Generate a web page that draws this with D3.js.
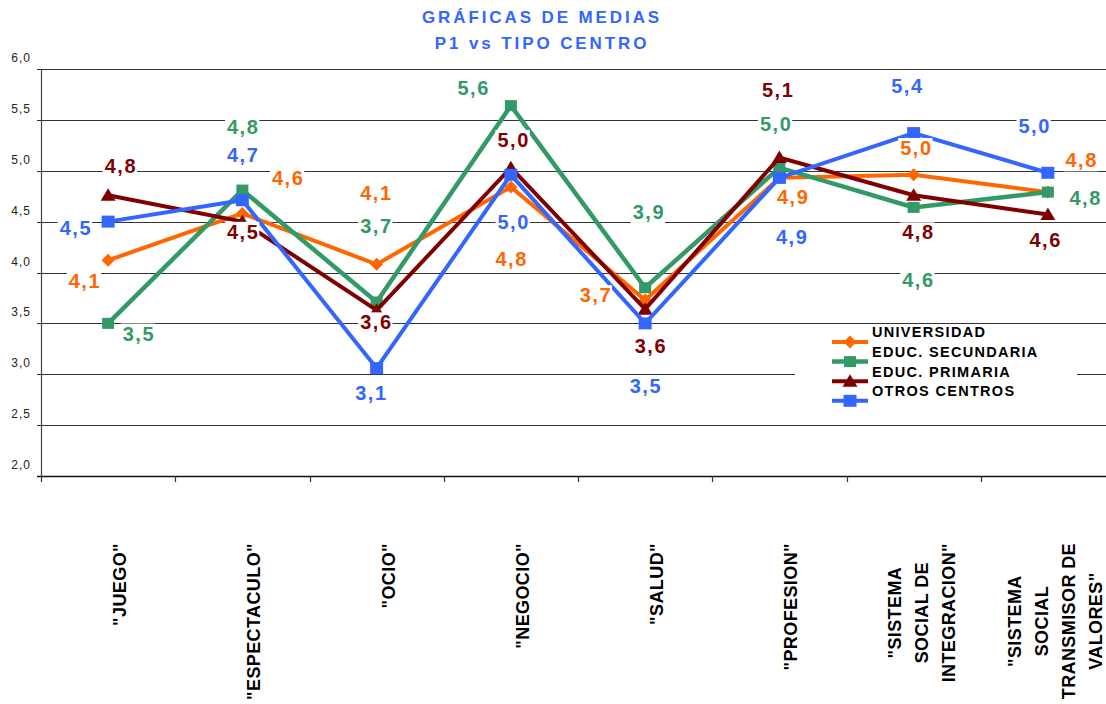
<!DOCTYPE html>
<html>
<head>
<meta charset="utf-8">
<script src="https://cdn.jsdelivr.net/npm/d3@7"></script>
<style>
  html, body { margin: 0; padding: 0; background: #ffffff; }
  svg { display: block; }
</style>
</head>
<body>
<svg id="chart" width="1106" height="704"></svg>
<script>
// ---------------- DATA ----------------
const titleLines = ["GRÁFICAS DE MEDIAS", "P1 vs TIPO CENTRO"];
const categories = ["JUEGO", "ESPECTACULO", "OCIO", "NEGOCIO", "SALUD", "PROFESION", "SSI", "SSTV"];
const categoryLabelLines = [
  ['"JUEGO"'],
  ['"ESPECTACULO"'],
  ['"OCIO"'],
  ['"NEGOCIO"'],
  ['"SALUD"'],
  ['"PROFESION"'],
  ['"SISTEMA', 'SOCIAL DE', 'INTEGRACION"'],
  ['"SISTEMA', 'SOCIAL', 'TRANSMISOR DE', 'VALORES"']
];
const seriesNames = ["UNIVERSIDAD", "EDUC. SECUNDARIA", "EDUC. PRIMARIA", "OTROS CENTROS"];
const universidad = [4.12, 4.58, 4.08, 4.84, 3.73, 4.93, 4.96, 4.79];
const secundaria  = [3.50, 4.81, 3.71, 5.64, 3.85, 5.03, 4.64, 4.79];
const primaria    = [4.76, 4.50, 3.63, 5.03, 3.64, 5.13, 4.76, 4.57];
const otros       = [4.50, 4.71, 3.06, 4.96, 3.50, 4.93, 5.37, 4.98];
const yTicks = [2.0, 2.5, 3.0, 3.5, 4.0, 4.5, 5.0, 5.5, 6.0];

// ---------------- LAYOUT / STYLE ----------------
const colors = ["#FF6600", "#339966", "#800000", "#3366FF"];
const markerTypes = ["diamond", "square", "triangle", "squareBig"];
const lineWidths = [4, 4.5, 4, 4];
// manual data-label offsets (px) relative to each point, per series
const labelOffsets = [
  [[-24, 21], [45, -36], [-1, -72], [0, 72], [-50, -5], [13, 19], [2, -27], [33, -32]],
  [[30, 10], [0, -63], [-1, -76], [-38, -18], [3, -76], [-4, -44], [4, 72], [37, 6]],
  [[12, -29], [0, 10], [-1, 12], [2, -28], [5, 37], [-2, -68], [4, 37], [-3, 25]],
  [[-33, 6], [0, -45], [-6, 25], [2, 47], [0, 62], [12, 59], [-7, -47], [-14, -47]]
];
const allSeries = [universidad, secundaria, primaria, otros];

const svg = d3.select("#chart");
const W = 1106, H = 704;
const plotLeft = 41, plotRight = 1115, plotTop = 69, plotBottom = 476;

const x = d3.scaleBand().domain(categories).range([plotLeft, plotRight]).padding(0);
const cx = c => x(c) + x.bandwidth() / 2;
const y = d3.scaleLinear().domain([2, 6]).range([plotBottom, plotTop]);
const fmt = v => d3.format(".1f")(v).replace(".", ",");

// ---------------- TITLE ----------------
svg.selectAll("text.title").data(titleLines).join("text")
  .attr("class", "title")
  .attr("x", 542)
  .attr("y", (d, i) => 23 + i * 26)
  .attr("text-anchor", "middle")
  .attr("fill", "#3366FF")
  .style("font-family", "'Liberation Sans', Arial, sans-serif")
  .style("font-weight", "bold")
  .style("font-size", "17px")
  .style("letter-spacing", "2.9px")
  .text(d => d);

// ---------------- GRID + Y AXIS ----------------
const gridG = svg.append("g");
gridG.selectAll("line").data(yTicks.filter(t => t > 2)).join("line")
  .attr("x1", plotLeft - 4).attr("x2", W)
  .attr("y1", d => Math.round(y(d)) + 0.5).attr("y2", d => Math.round(y(d)) + 0.5)
  .attr("stroke", "#333").attr("stroke-width", 1);

svg.append("line")
  .attr("x1", plotLeft + 0.5).attr("x2", plotLeft + 0.5)
  .attr("y1", y(6)).attr("y2", plotBottom)
  .attr("stroke", "#444").attr("stroke-width", 1.2);

svg.selectAll("text.ytick").data(yTicks).join("text")
  .attr("class", "ytick")
  .attr("x", 31)
  .attr("y", d => y(d) - 7)
  .attr("text-anchor", "end")
  .attr("fill", "#222")
  .style("font-family", "'Liberation Sans', Arial, sans-serif")
  .style("font-size", "12px")
  .style("letter-spacing", "1px")
  .text(d => fmt(d));

// ---------------- X AXIS ----------------
svg.append("line")
  .attr("x1", plotLeft - 4).attr("x2", W)
  .attr("y1", plotBottom + 0.5).attr("y2", plotBottom + 0.5)
  .attr("stroke", "#111").attr("stroke-width", 1.3);

const tickPos = categories.map(c => x(c));
svg.selectAll("line.xtick").data(tickPos).join("line")
  .attr("class", "xtick")
  .attr("x1", d => Math.round(d) + 0.5).attr("x2", d => Math.round(d) + 0.5)
  .attr("y1", plotBottom).attr("y2", plotBottom + 6)
  .attr("stroke", "#333").attr("stroke-width", 1.2);

// category labels, rotated
const catG = svg.append("g");
categories.forEach((c, i) => {
  const lines = categoryLabelLines[i];
  const g = catG.append("g");
  const texts = lines.map((ln) => g.append("text")
    .attr("fill", "#000")
    .style("font-family", "'Liberation Sans', Arial, sans-serif")
    .style("font-weight", "bold")
    .style("font-size", "18px")
    .style("letter-spacing", "0.4px")
    .attr("text-anchor", "middle")
    .text(ln));
  const maxW = d3.max(texts, t => t.node().getComputedTextLength());
  const centerY = 543 + maxW / 2;
  const step = 27;
  const blockCenterX = cx(c) + (lines.length > 1 ? 7.5 : 11.5);
  texts.forEach((t, k) => {
    const lx = blockCenterX + (k - (lines.length - 1) / 2) * step;
    t.attr("transform", `translate(${lx + 6.5},${centerY}) rotate(-90)`);
  });
});

// ---------------- SERIES ----------------
function markerPath(type) {
  switch (type) {
    case "diamond": return "M0,-6.5L6.5,0L0,6.5L-6.5,0Z";
    case "square": return "M-6,-5.5H6V5.5H-6Z";
    case "squareBig": return "M-6.5,-6H6.5V6H-6.5Z";
    case "triangle": return "M0,-7L7.5,5.5H-7.5Z";
  }
}

const lineGen = d3.line().x((d, i) => cx(categories[i])).y(d => y(d));
allSeries.forEach((s, si) => {
  const g = svg.append("g");
  g.append("path").datum(s)
    .attr("d", lineGen)
    .attr("fill", "none")
    .attr("stroke", colors[si])
    .attr("stroke-width", lineWidths[si])
    .attr("stroke-linejoin", "miter");
  g.selectAll("path.mk").data(s).join("path")
    .attr("class", "mk")
    .attr("d", markerPath(markerTypes[si]))
    .attr("transform", (d, i) => `translate(${cx(categories[i])},${y(d)})`)
    .attr("fill", colors[si]);
});

// ---------------- DATA LABELS ----------------
const labG = svg.append("g");
allSeries.forEach((s, si) => {
  s.forEach((v, i) => {
    const px = cx(categories[i]) + labelOffsets[si][i][0];
    const py = y(v) + labelOffsets[si][i][1];
    const g = labG.append("g");
    const t = g.append("text")
      .attr("x", px + 0.75)
      .attr("y", py + 7.2)
      .attr("text-anchor", "middle")
      .attr("fill", colors[si])
      .style("font-family", "'Liberation Sans', Arial, sans-serif")
      .style("font-weight", "bold")
      .style("font-size", "20px")
      .style("letter-spacing", "1.5px")
      .text(fmt(v));
    const bb = t.node().getBBox();
    g.insert("rect", "text")
      .attr("x", bb.x - 2).attr("y", bb.y + 1)
      .attr("width", bb.width + 2).attr("height", bb.height - 1)
      .attr("fill", "#fff");
  });
});

// ---------------- LEGEND ----------------
const leg = svg.append("g");
leg.append("rect")
  .attr("x", 795).attr("y", 326).attr("width", 282).attr("height", 82)
  .attr("fill", "#fff");
seriesNames.forEach((n, i) => {
  const ty = 332 + i * 19.6;
  const my = ty + 10;
  leg.append("line")
    .attr("x1", 832).attr("x2", 868)
    .attr("y1", my).attr("y2", my)
    .attr("stroke", colors[i]).attr("stroke-width", lineWidths[i]);
  leg.append("path")
    .attr("d", markerPath(markerTypes[i]))
    .attr("transform", `translate(850,${my})`)
    .attr("fill", colors[i]);
  leg.append("text")
    .attr("x", 872)
    .attr("y", ty + 5.3)
    .attr("fill", "#000")
    .style("font-family", "'Liberation Sans', Arial, sans-serif")
    .style("font-weight", "bold")
    .style("font-size", "14.5px")
    .style("letter-spacing", "1.3px")
    .text(n);
});
</script>
</body>
</html>
